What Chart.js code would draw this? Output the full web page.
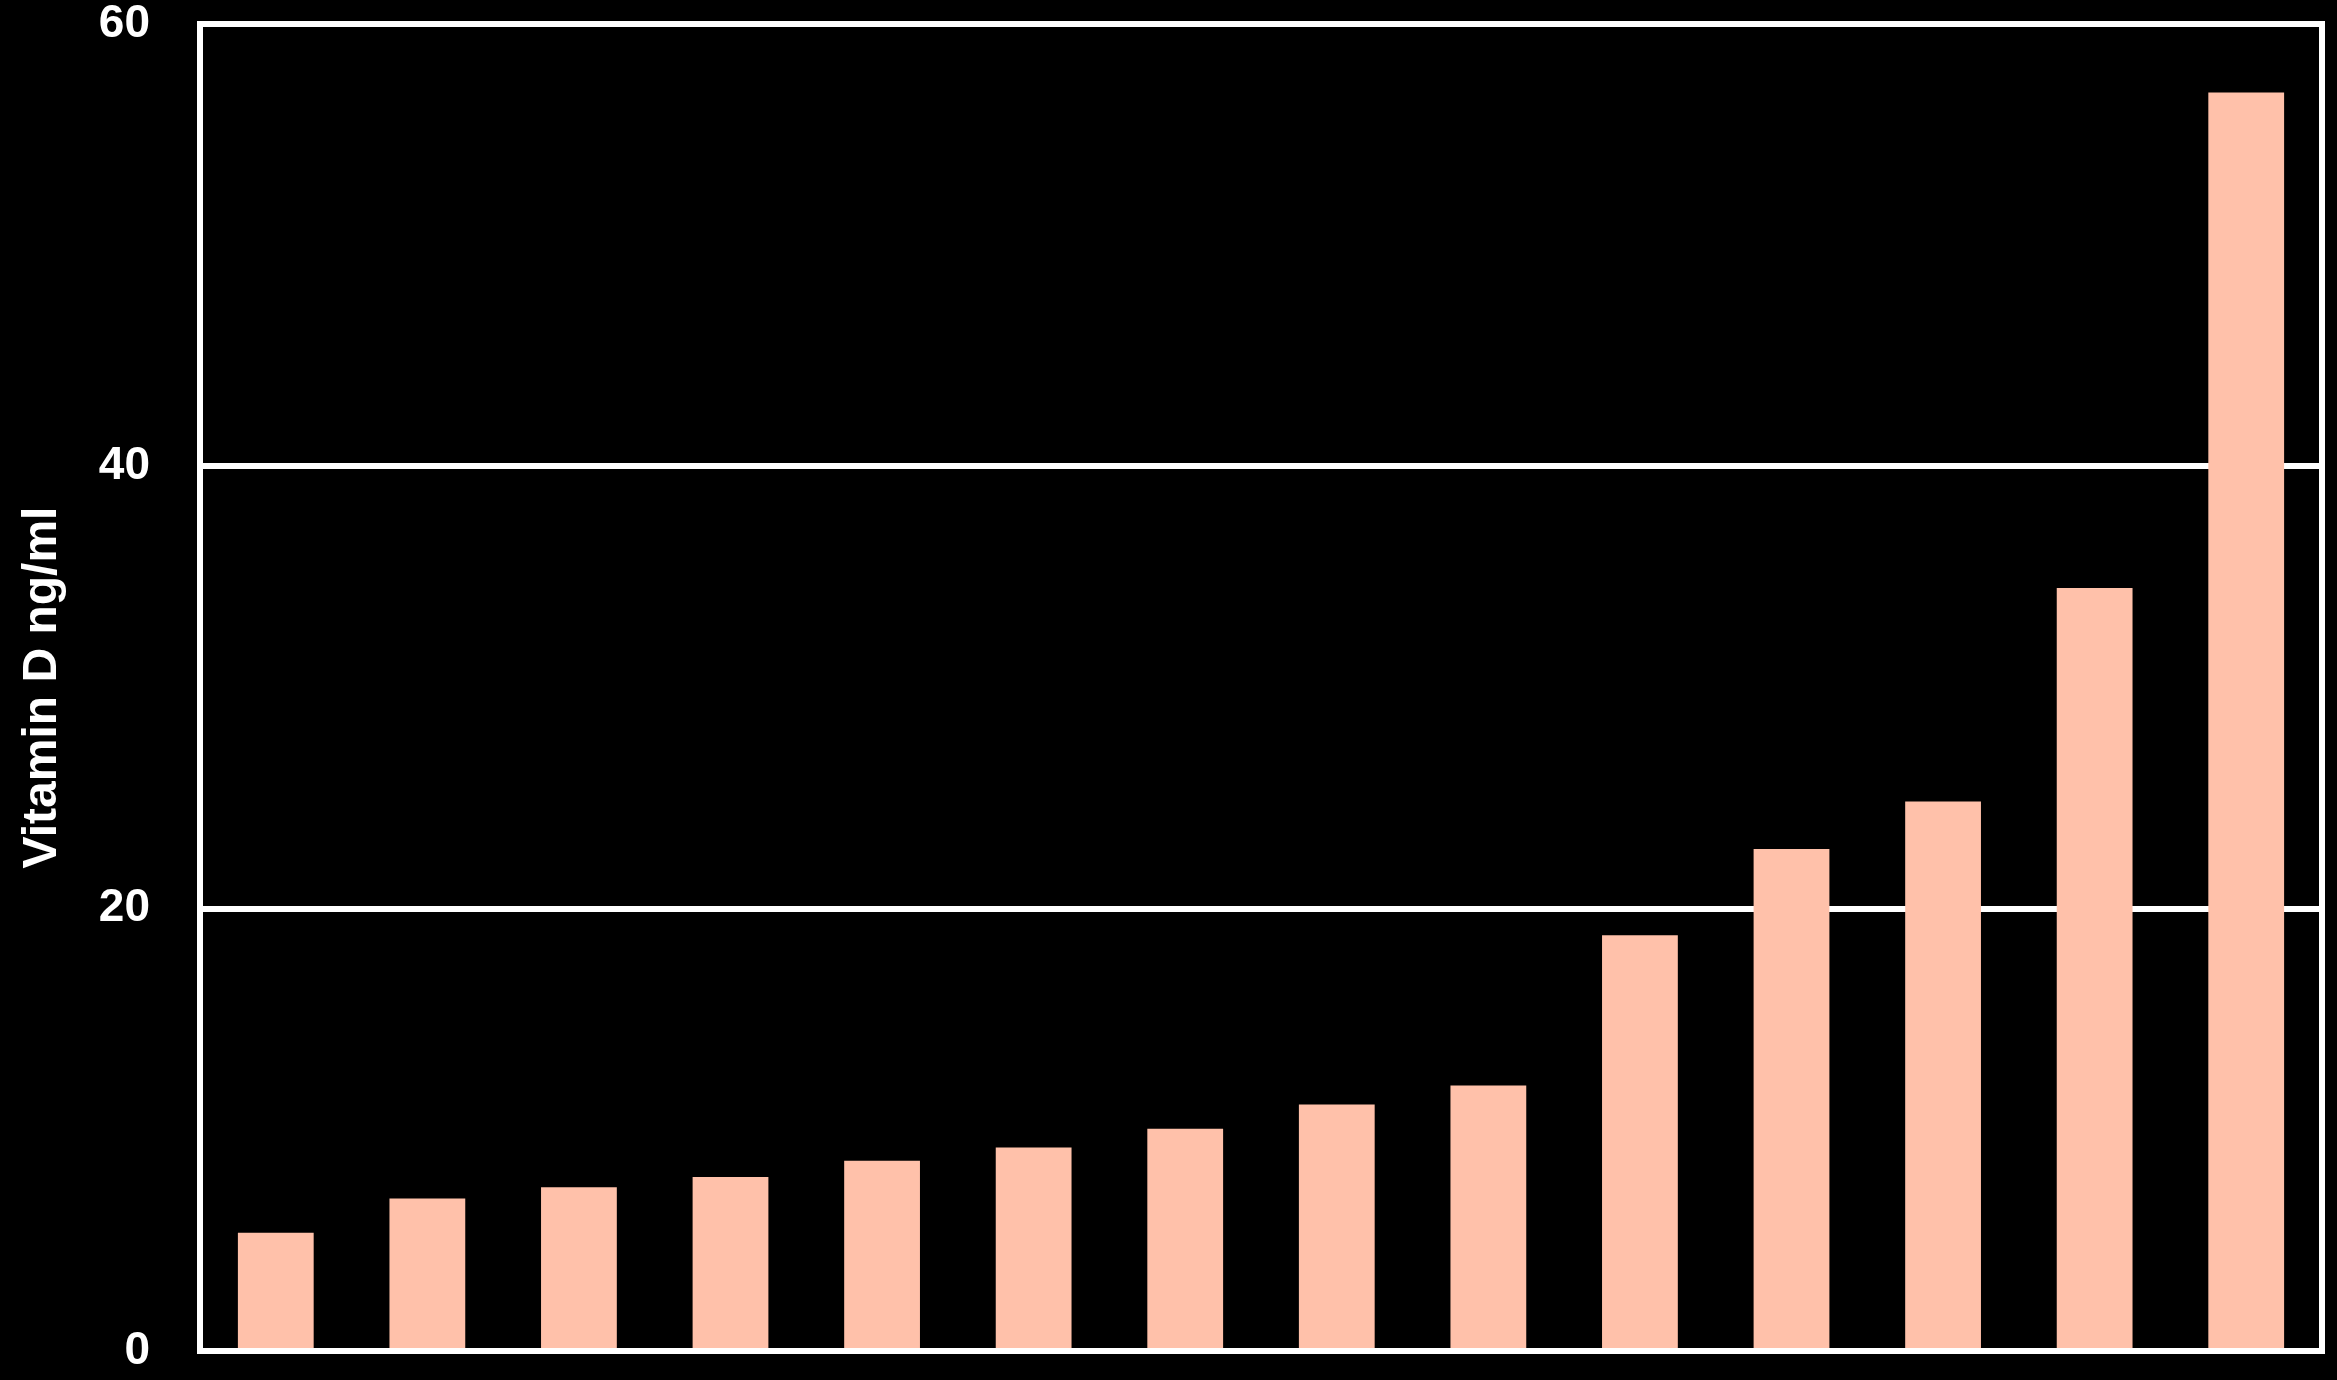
<!DOCTYPE html>
<html lang="en">
  <head>
    <meta charset="UTF-8" />
    <script src="https://cdn.jsdelivr.net/npm/chart.js@4.4.0/dist/chart.umd.min.js"></script>
    <title>Vitamin D ng/ml</title>
    <style>
      html, body {
        margin: 0;
        padding: 0;
        background: #000;
      }
      .container {
        width: 2337px;
        height: 1380px;
      }
    </style>
  </head>
  <body>
    <div class="container">
      <canvas id="chart"></canvas>
    </div>
    <script>
      const categories = ['1', '2', '3', '4', '5', '6', '7', '8', '9', '10', '11', '12', '13', '14']
      const vitaminD = [5.35, 6.9, 7.4, 7.87, 8.6, 9.2, 10.05, 11.15, 12.0, 18.8, 22.7, 24.85, 34.5, 56.9]
      const yTicks = [0, 20, 40, 60]

      const font = "'Liberation Sans', Arial, sans-serif"

      // white box around the plot area
      const frame = {
        id: 'frame',
        afterDatasetsDraw(chart) {
          const { ctx, chartArea: a } = chart
          ctx.save()
          ctx.strokeStyle = '#ffffff'
          ctx.lineWidth = 6
          ctx.strokeRect(a.left, a.top, a.right - a.left, a.bottom - a.top)
          ctx.restore()
        },
      }

      new Chart(document.getElementById('chart'), {
        type: 'bar',
        data: {
          labels: categories,
          datasets: [
            {
              data: vitaminD,
              backgroundColor: '#ffc1aa',
              borderWidth: 0,
              barPercentage: 0.5,
              categoryPercentage: 1,
            },
          ],
        },
        options: {
          responsive: true,
          maintainAspectRatio: false,
          animation: false,
          layout: {
            padding: { top: 24, right: 15, bottom: 29, left: 0 },
          },
          plugins: {
            legend: { display: false },
            tooltip: { enabled: false },
          },
          scales: {
            x: {
              display: false,
            },
            y: {
              min: 0,
              max: 60,
              afterFit: (scale) => {
                scale.width = 200
                // tick labels may overhang the plot edges, as in the original
                scale.paddingTop = 0
                scale.paddingBottom = 0
              },
              afterBuildTicks: (scale) => {
                scale.ticks = yTicks.map((v) => ({ value: v }))
              },
              border: { display: false },
              grid: {
                drawTicks: false,
                lineWidth: 6,
                color: (c) =>
                  c.tick && c.tick.value > 0 && c.tick.value < 60 ? '#ffffff' : 'rgba(0,0,0,0)',
              },
              ticks: {
                color: '#ffffff',
                padding: 50,
                font: { family: font, size: 46, weight: 'bold' },
              },
              title: {
                display: true,
                text: 'Vitamin D ng/ml',
                color: '#ffffff',
                padding: { top: 14, bottom: 0 },
                font: { family: font, size: 48, weight: 'bold' },
              },
            },
          },
        },
        plugins: [frame],
      })
    </script>
  </body>
</html>
